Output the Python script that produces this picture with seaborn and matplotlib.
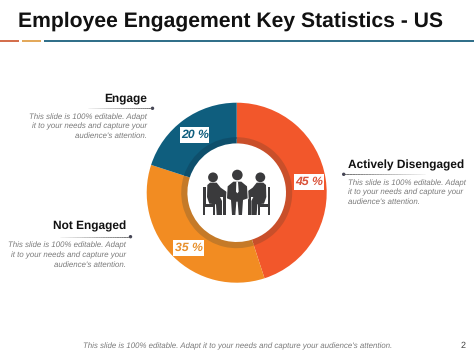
import matplotlib
matplotlib.use("Agg")
import matplotlib.pyplot as plt
import seaborn as sns
from matplotlib.patches import Circle, Polygon, Rectangle

categories = ["Actively Disengaged", "Not Engaged", "Engage"]
values = [45, 35, 20]
title = "Employee Engagement Key Statistics - US"
body_lines = ["This slide is 100% editable. Adapt", "it to your needs and capture your", "audience's attention."]
footer = "This slide is 100% editable. Adapt it to your needs and capture your audience's attention."
page = "2"
colors = ["#F2572B", "#F28C22", "#0F5E7E"]
dark_colors = ["#C94F2A", "#C57A28", "#0E4F6C"]

sns.set_theme(style="white")
plt.rcParams["font.family"] = ["Liberation Sans", "DejaVu Sans"]
plt.rcParams["text.hinting"] = "no_hinting"
plt.rcParams["text.hinting_factor"] = 8

W, H = 474, 355
fig = plt.figure(figsize=(W / 100, H / 100), dpi=100, facecolor="white")
ax = fig.add_axes([0, 0, 1, 1])


def Y(py):
    return H - py


CX, CY = 236.7, Y(192.7)
ax.pie(values, colors=colors, startangle=90, counterclock=False, radius=90, center=(CX, CY),
       wedgeprops=dict(width=36, linewidth=0), frame=False)
ax.pie(values, colors=dark_colors, startangle=90, counterclock=False, radius=55.5, center=(CX, CY),
       wedgeprops=dict(width=6.2, linewidth=0), frame=False)
ax.set_xlim(0, W)
ax.set_ylim(0, H)
ax.set_aspect("equal")
ax.axis("off")

# title and rule
ax.text(18, Y(21.5), title, fontsize=15.18, fontweight="bold", color="#111111", ha="left", va="center")
for x0, x1, c in [(0, 19, "#D0603A"), (22, 41, "#E0A04A"), (44, 474, "#1B617E")]:
    ax.plot([x0, x1], [Y(40.7), Y(40.7)], color=c, lw=1.3, solid_capstyle="butt")


def leader(x_dot, x_far, py):
    n = 30
    for i in range(n):
        a = x_dot + (x_far - x_dot) * i / n
        b = x_dot + (x_far - x_dot) * (i + 1) / n
        ax.plot([a, b], [Y(py), Y(py)], color="#555555", alpha=0.8 * (1 - i / n) + 0.05, lw=0.7,
                solid_capstyle="butt")
    ax.add_patch(Circle((x_dot, Y(py)), 1.7, color="#444455", lw=0))


def block(name, x, py_head, py_line, x_dot, x_far, ha, py_body):
    ax.text(x, Y(py_head), name, fontsize=8.55, fontweight="bold", color="#111111", ha=ha, va="center")
    leader(x_dot, x_far, py_line)
    for line, py in zip(body_lines, py_body):
        ax.text(x, Y(py), line, fontsize=5.65, style="italic", color="#7A7A7A", ha=ha, va="center")


block(categories[2], 147, 98, 108.3, 152.5, 88, "right", [117, 126.5, 136])
block(categories[1], 126, 226.7, 236.7, 130.5, 60, "right", [245.5, 255, 264.5])
block(categories[0], 348.5, 165, 174.3, 343.7, 425, "left", [183.5, 192.5, 202])

ax.text(83, Y(346), footer, fontsize=5.64, style="italic", color="#7A7A7A", ha="left", va="center")
ax.text(463, Y(346), page, fontsize=6.5, color="#444444", ha="center", va="center")

# percent boxes
boxes = [(294, 174, 30, 16), (173.5, 240, 30.5, 16), (180, 127, 29.5, 16)]
text_cols = ["#D9533A", "#E8912D", "#0F5E7E"]
for (x, y, w, h), v, c in zip(boxes, values, text_cols):
    ax.add_patch(Rectangle((x, Y(y + h)), w, h, color="white", lw=0))
    ax.text(x + w / 2, Y(y + h / 2), f"{v} %", fontsize=8.8, fontweight="bold", style="italic",
            color=c, ha="center", va="center")

# meeting icon, outlined in the crop's own grid
ic = "#3A3A3C"


def P(u, v):
    return (198 + u / 3, Y(165 + v / 3))


def poly(pts, color=ic, mirror=False):
    ax.add_patch(Polygon([P(232 - u if mirror else u, v) for u, v in pts], closed=True, color=color, lw=0))


for u, v, r in [(45, 37, 4.9), (118, 30, 5.3), (187, 37, 4.9)]:
    ax.add_patch(Circle(P(u, v), r, color=ic, lw=0))

person = [(28, 60), (36, 53), (56, 53), (68, 68), (88, 82), (88, 96), (66, 96), (72, 108), (72, 150),
          (56, 150), (54, 118), (34, 116), (27, 96)]
chair_parts = [
    [(15, 65), (23, 65), (23, 116), (52, 116), (52, 150), (45, 150), (45, 126), (22, 126), (22, 150), (15, 150)],
]
for m in (False, True):
    poly(person, mirror=m)
    for part in chair_parts:
        poly(part, mirror=m)
# table
poly([(75, 92), (158, 92), (158, 150), (151, 150), (151, 98), (83, 98), (83, 150), (75, 150)])
# centre person, with a thin white outline separating it from the arms
poly([(86, 64), (104, 47), (132, 47), (150, 64), (152, 102), (138, 108), (135, 150), (121, 150), (119, 112),
      (115, 112), (113, 150), (99, 150), (96, 108), (84, 102)], color="white")
poly([(89, 64), (106, 50), (130, 50), (147, 64), (149, 100), (135, 105), (132, 150), (122, 150), (119, 110),
      (115, 110), (112, 150), (102, 150), (99, 105), (87, 100)])
poly([(115, 50), (120, 50), (122, 80), (118, 85), (114, 80)], color="white")

fig.savefig("out.png", dpi=100, facecolor="white")
